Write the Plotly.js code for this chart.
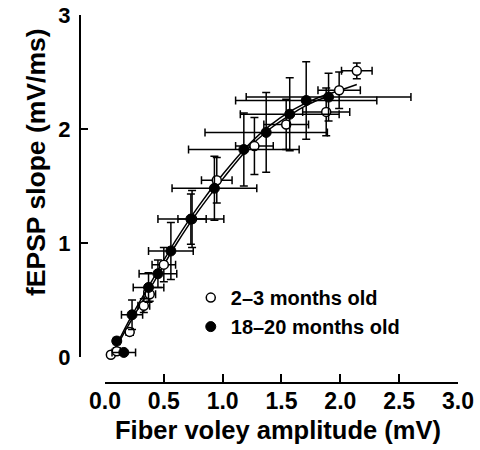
<!DOCTYPE html>
<html>
<head>
<meta charset="utf-8">
<script src="https://cdn.plot.ly/plotly-3.0.1.min.js"></script>
<style>html,body{margin:0;padding:0;background:#fff;}</style>
</head>
<body>
<div id="chart" style="width:480px;height:450px;"></div>
<script>
// 2–3 months old (open circles)
const youngX    = [0.05, 0.10, 0.21, 0.33, 0.38, 0.50, 0.74, 0.95, 1.27, 1.54, 1.88, 1.99, 2.14];
const youngY    = [0.02, 0.05, 0.22, 0.45, 0.55, 0.81, 1.21, 1.55, 1.85, 2.04, 2.15, 2.34, 2.51];
const youngXerr = [0.02, 0.02, 0.03, 0.05, 0.05, 0.10, 0.12, 0.13, 0.16, 0.19, 0.20, 0.18, 0.13];
const youngYerr = [0.02, 0.03, 0.03, 0.06, 0.06, 0.15, 0.25, 0.20, 0.25, 0.22, 0.21, 0.16, 0.07];

// 18–20 months old (filled circles)
const oldX    = [0.16, 0.10, 0.23, 0.37, 0.45, 0.56, 0.73, 0.93, 1.18, 1.37, 1.57, 1.71, 1.90];
const oldY    = [0.04, 0.14, 0.37, 0.61, 0.73, 0.93, 1.21, 1.48, 1.82, 1.97, 2.13, 2.25, 2.28];
const oldXerr = [0.10, 0.02, 0.09, 0.13, 0.16, 0.19, 0.28, 0.36, 0.47, 0.52, 0.42, 0.60, 0.70];
const oldYerr = [0.00, 0.03, 0.13, 0.13, 0.12, 0.25, 0.22, 0.28, 0.32, 0.35, 0.32, 0.34, 0.21];

// fitted curves
const fitOldX   = [0.05, 0.2, 0.4, 0.6, 0.8, 1.0, 1.2, 1.4, 1.6, 1.7, 1.8, 1.92];
const fitOldY   = [0.0, 0.28, 0.63, 0.98, 1.29, 1.56, 1.81, 2.00, 2.14, 2.20, 2.25, 2.29];
const fitYoungX = [0.05, 0.2, 0.4, 0.6, 0.8, 1.0, 1.2, 1.4, 1.6, 1.8, 2.0, 2.14];
const fitYoungY = [0.0, 0.31, 0.67, 1.02, 1.33, 1.60, 1.84, 2.03, 2.17, 2.27, 2.34, 2.39];

const xTicks = [0, 0.5, 1.0, 1.5, 2.0, 2.5, 3.0];
const xTickText = ['0.0', '0.5', '1.0', '1.5', '2.0', '2.5', '3.0'];
const yTicks = [0, 1, 2, 3];
const yTickText = ['0', '1', '2', '3'];

const seriesNames = ['2\u20133 months old', '18\u201320 months old'];
const xTitle = 'Fiber voley amplitude (mV)';
const yTitle = 'fEPSP slope (mV/ms)';

const FONT = 'Liberation Sans, Arial, sans-serif';

const traces = [
  {x: fitYoungX, y: fitYoungY, mode: 'lines', line: {shape: 'spline', color: '#000', width: 1.5}, showlegend: false, hoverinfo: 'skip'},
  {x: fitOldX, y: fitOldY, mode: 'lines', line: {shape: 'spline', color: '#000', width: 1.5}, showlegend: false, hoverinfo: 'skip'},
  {
    x: youngX, y: youngY, name: seriesNames[0], mode: 'markers', legendgroup: 'a',
    marker: {symbol: 'circle', size: 9, color: '#fff', line: {color: '#000', width: 1.5}},
    error_x: {type: 'data', array: youngXerr, visible: true, color: '#000', thickness: 1.5, width: 4},
    error_y: {type: 'data', array: youngYerr, visible: true, color: '#000', thickness: 1.5, width: 4},
    cliponaxis: false
  },
  {
    x: oldX, y: oldY, name: seriesNames[1], mode: 'markers', legendgroup: 'b',
    marker: {symbol: 'circle', size: 10, color: '#000', line: {color: '#000', width: 1}},
    error_x: {type: 'data', array: oldXerr, visible: true, color: '#000', thickness: 1.5, width: 4},
    error_y: {type: 'data', array: oldYerr, visible: true, color: '#000', thickness: 1.5, width: 4},
    cliponaxis: false
  }
];

const layout = {
  width: 480, height: 450,
  margin: {l: 80, r: 22, t: 15, b: 67},
  paper_bgcolor: '#fff', plot_bgcolor: '#fff',
  font: {family: FONT, color: '#000'},
  showlegend: true,
  legend: {
    x: 0.293, y: 0.285, xanchor: 'left', yanchor: 'top',
    font: {family: FONT, size: 20, weight: 'bold', color: '#000'},
    traceorder: 'grouped', tracegroupgap: 0, itemwidth: 30,
    bgcolor: 'rgba(0,0,0,0)', borderwidth: 0
  },
  xaxis: {
    domain: [0.0661, 1], range: [0, 3], anchor: 'free', position: 0,
    showline: true, linecolor: '#000', linewidth: 2,
    ticks: 'inside', ticklen: 8, tickwidth: 2, tickcolor: '#000',
    tickvals: xTicks, ticktext: xTickText,
    tickfont: {family: FONT, size: 23, weight: 'bold', color: '#000'},
    ticklabelstandoff: -3,
    showgrid: false, zeroline: false
  },
  yaxis: {
    domain: [0.0707, 1], range: [0, 3], anchor: 'free', position: 0,
    showline: true, linecolor: '#000', linewidth: 2,
    ticks: 'inside', ticklen: 7, tickwidth: 2, tickcolor: '#000',
    tickvals: yTicks, ticktext: yTickText,
    tickfont: {family: FONT, size: 22, weight: 'bold', color: '#000'},
    ticklabelstandoff: 4,
    showgrid: false, zeroline: false
  },
  annotations: [
    {
      text: yTitle, xref: 'paper', yref: 'paper',
      x: -0.1164, y: 0.6005, xanchor: 'center', yanchor: 'middle',
      textangle: -90, showarrow: false,
      font: {family: FONT, size: 26.5, weight: 'bold', color: '#000'}
    },
    {
      text: xTitle, xref: 'paper', yref: 'paper',
      x: 0.5225, y: -0.128, xanchor: 'center', yanchor: 'middle',
      showarrow: false,
      font: {family: FONT, size: 25.5, weight: 'bold', color: '#000'}
    }
  ]
};

Plotly.newPlot('chart', traces, layout, {displayModeBar: false, staticPlot: true});
</script>
</body>
</html>
